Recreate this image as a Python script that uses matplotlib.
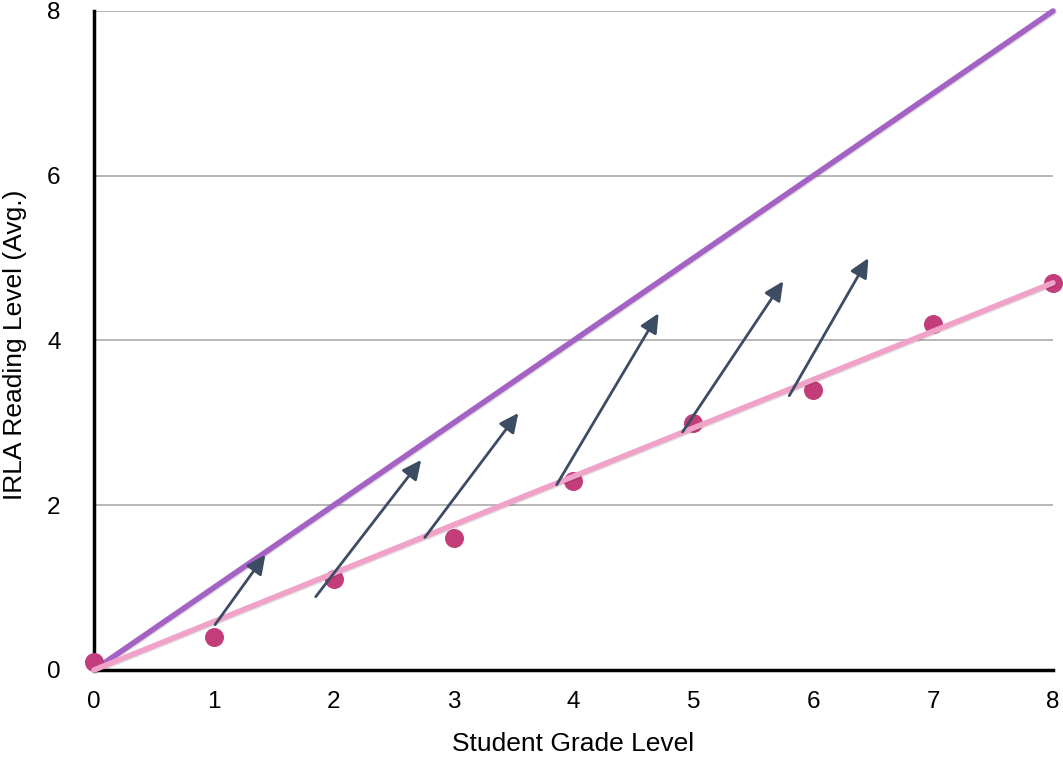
import matplotlib.pyplot as plt
import matplotlib.patheffects as pe

plt.rcParams['font.family'] = ['Liberation Sans', 'DejaVu Sans']

# data
grades = [0, 1, 2, 3, 4, 5, 6, 7, 8]
irla_avg = [0.1, 0.4, 1.1, 1.6, 2.3, 3.0, 3.4, 4.2, 4.7]
target_x = [0, 8]
target_y = [0, 8]
trend_x = [0, 8]
trend_y = [0, 4.7]

# growth arrows: (x_start, y_start, x_end, y_end)
arrow_x0 = [1.01, 1.85, 2.76, 3.86, 4.91, 5.80]
arrow_y0 = [0.55, 0.89, 1.61, 2.25, 2.89, 3.33]
arrow_x1 = [1.43, 2.73, 3.54, 4.71, 5.75, 6.46]
arrow_y1 = [1.40, 2.55, 3.12, 4.33, 4.72, 5.00]

fig = plt.figure(figsize=(10.63, 7.58), dpi=100)
ax = fig.add_axes([0.0884, 0.1161, 0.9022, 0.8694])

ax.set_xlim(0, 8)
ax.set_ylim(0, 8)
ax.set_xticks(range(0, 9))
ax.set_yticks(range(0, 9, 2))
ax.grid(axis='y', color='#aaaaaa', linewidth=1.2)
ax.set_axisbelow(True)

shadow = [pe.SimpleLineShadow(offset=(0.8, -0.8), alpha=0.12), pe.Normal()]
ax.plot(target_x, target_y, color='#a463c4', linewidth=4, solid_capstyle='round',
        path_effects=shadow, clip_on=False, zorder=3)
ax.plot(trend_x, trend_y, color='#f0a2c9', linewidth=4, solid_capstyle='round',
        path_effects=shadow, clip_on=False, zorder=4)
ax.scatter(grades, irla_avg, s=160, color='#c23d7a', clip_on=False, zorder=3.5)

for x0, y0, x1, y1 in zip(arrow_x0, arrow_y0, arrow_x1, arrow_y1):
    ax.annotate('', xy=(x1, y1), xytext=(x0, y0),
                arrowprops=dict(arrowstyle='-|>,head_length=1.15,head_width=0.55',
                                color='#3b4c63', linewidth=2, shrinkA=0, shrinkB=0),
                zorder=5)

for s in ['top', 'right']:
    ax.spines[s].set_visible(False)
for s in ['left', 'bottom']:
    ax.spines[s].set_linewidth(2.5)
    ax.spines[s].set_color('black')
ax.tick_params(length=0, labelsize=17.5, pad=15)
ax.tick_params(axis='y', pad=24)

ax.set_xlabel('Student Grade Level', fontsize=19, labelpad=14)
ax.set_ylabel('IRLA Reading Level (Avg.)', fontsize=19, va='center')
ax.yaxis.set_label_coords(-0.082, 0.493)

fig.savefig('out.png', dpi=100)
